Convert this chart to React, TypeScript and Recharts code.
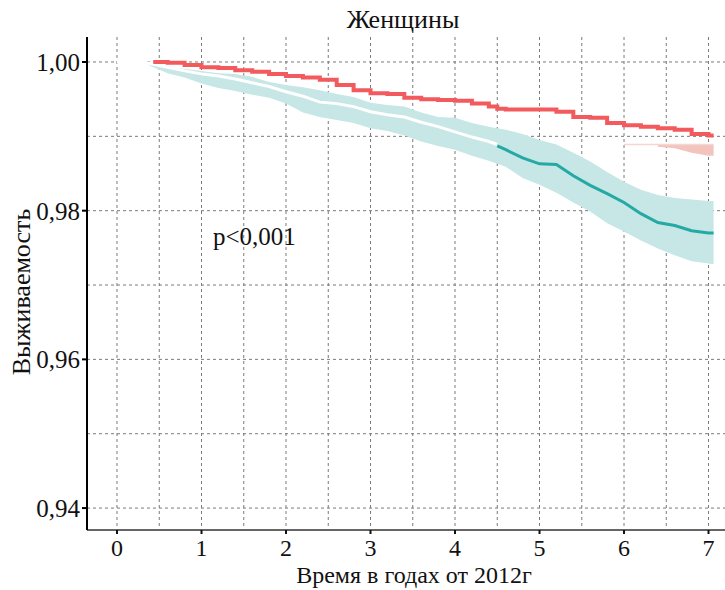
import {
  ComposedChart,
  Line,
  Area,
  XAxis,
  YAxis,
  CartesianGrid,
  Customized,
} from "recharts";

// time points (years from 2012)
const times = [
  0, 0.3, 0.43, 0.6, 0.8, 1.0, 1.2, 1.4, 1.6, 1.8, 2.0, 2.2, 2.4, 2.6, 2.8, 3.0,
  3.2, 3.4, 3.6, 3.8, 4.0, 4.2, 4.4, 4.5, 4.6, 4.8, 5.0, 5.2, 5.4, 5.6, 5.8, 6.0,
  6.2, 6.4, 6.6, 6.8, 7.0, 7.06,
];

// red group survival
const redSurv = [
  null, null, 1.0, 0.9999, 0.9996, 0.9993, 0.9992, 0.9989, 0.9987, 0.9984,
  0.9981, 0.9979, 0.9976, 0.9969, 0.9962, 0.9958, 0.9957, 0.9952, 0.995, 0.9949,
  0.9948, 0.9944, 0.994, 0.9937, 0.9936, 0.9936, 0.9936, 0.9933, 0.9926, 0.9925,
  0.9918, 0.9915, 0.9913, 0.9911, 0.9909, 0.9903, 0.9901, 0.9901,
];

// white trace inside the teal band (up to 4.5 years)
const whiteTrace = [
  1.0, 1.0, 0.9997, 0.9993, 0.9988, 0.9984, 0.9981, 0.9977, 0.9972, 0.9967,
  0.996, 0.9954, 0.9946, 0.9944, 0.994, 0.9933, 0.9929, 0.9926, 0.9919, 0.9913,
  0.9906, 0.9899, 0.9893, 0.9889, null, null, null, null, null, null, null, null,
  null, null, null, null, null, null,
];

// teal group survival (visible from 4.5 years)
const tealSurv = [
  null, null, null, null, null, null, null, null, null, null, null, null, null,
  null, null, null, null, null, null, null, null, null, null, 0.9887, 0.9882,
  0.9871, 0.9863, 0.9862, 0.9847, 0.9834, 0.9823, 0.9811, 0.9796, 0.9784,
  0.978, 0.9773, 0.977, 0.977,
];

// teal confidence band
const tealUpper = [
  1.0, 1.0, 0.9997, 0.9993, 0.9991, 0.9988, 0.9985, 0.9984, 0.998, 0.9973,
  0.9969, 0.9966, 0.9962, 0.9957, 0.9953, 0.9945, 0.9942, 0.994, 0.9932, 0.9926,
  0.9925, 0.9918, 0.9913, 0.9911, 0.9909, 0.9903, 0.9895, 0.9889, 0.9878,
  0.9866, 0.9852, 0.9839, 0.9828, 0.9821, 0.9817, 0.9815, 0.9813, 0.9813,
];
const tealLower = [
  1.0, 1.0, 0.9993, 0.9985, 0.9979, 0.9971, 0.9965, 0.9961, 0.9956, 0.9952,
  0.9944, 0.9932, 0.9926, 0.9922, 0.9918, 0.9911, 0.9907, 0.9901, 0.9893,
  0.9887, 0.9882, 0.9874, 0.9867, 0.9863, 0.9859, 0.9844, 0.9835, 0.9824,
  0.9811, 0.9799, 0.9783, 0.9772, 0.976, 0.9749, 0.974, 0.9732, 0.9729, 0.9728,
];

// faint red lower confidence bound near the end
const redLowerFaint = [
  null, null, null, null, null, null, null, null, null, null, null, null, null,
  null, null, null, null, null, null, null, null, null, null, null, null, null,
  null, null, null, null, null, 0.9889, 0.9889, 0.9889, 0.9889, 0.9889, 0.9889,
  0.9889,
];
const redPatchLow = [
  null, null, null, null, null, null, null, null, null, null, null, null, null,
  null, null, null, null, null, null, null, null, null, null, null, null, null,
  null, null, null, null, null, null, null, 0.9886, 0.9884, 0.9878, 0.9874,
  0.9874,
];

const xTicks = [0, 1, 2, 3, 4, 5, 6, 7];
const yTicks = [0.94, 0.96, 0.98, 1.0];
const xGrid = [0, 0.5, 1, 1.5, 2, 2.5, 3, 3.5, 4, 4.5, 5, 5.5, 6, 6.5, 7];
const yGrid = [0.94, 0.95, 0.96, 0.97, 0.98, 0.99, 1.0];

const data = times.map((t, i) => ({
  t,
  red: redSurv[i],
  white: whiteTrace[i],
  teal: tealSurv[i],
  band: [tealLower[i], tealUpper[i]],
  redFaint: redLowerFaint[i],
  patch: redPatchLow[i] == null ? null : [redPatchLow[i], redLowerFaint[i]],
}));

const FONT = "'Liberation Serif', 'Times New Roman', serif";
const X_DOMAIN = [-0.355, 7.195];

const Texts = () => (
  <g fontFamily={FONT} fill="#111" fontSize={26}>
    <text x={403} y={28} textAnchor="middle">
      Женщины
    </text>
    <text x={30} y={292} textAnchor="middle" transform="rotate(-90 30 292)">
      Выживаемость
    </text>
    <text x={414} y={583} textAnchor="middle" fontSize={24}>
      Время в годах от 2012г
    </text>
    <text x={213} y={245} fontSize={25}>
      p&lt;0,001
    </text>
  </g>
);

export default function App() {
  return (
    <div style={{ position: "absolute", left: 0, top: 0, background: "#fff" }}>
      <ComposedChart
        width={725}
        height={590}
        data={data}
        margin={{ top: 37, right: 0, bottom: 30, left: 0 }}
      >
        <CartesianGrid
          stroke="#7a7a7a"
          strokeDasharray="3 3"
          verticalValues={xGrid}
          horizontalValues={yGrid}
        />
        <XAxis
          type="number"
          dataKey="t"
          domain={X_DOMAIN}
          ticks={xTicks}
          height={30}
          tickSize={4}
          tickMargin={5}
          axisLine={{ stroke: "#666", strokeWidth: 2 }}
          tickLine={{ stroke: "#111", strokeWidth: 2 }}
          tick={{ fill: "#111", fontSize: 24, fontFamily: FONT }}
          allowDataOverflow
        />
        <XAxis
          xAxisId="top"
          orientation="top"
          type="number"
          dataKey="t"
          domain={X_DOMAIN}
          ticks={xTicks}
          height={0}
          mirror
          tick={false}
          tickSize={4}
          axisLine={{ stroke: "#777", strokeWidth: 2 }}
          tickLine={{ stroke: "#333", strokeWidth: 2 }}
          allowDataOverflow
        />
        <YAxis
          type="number"
          domain={[0.93705, 1.00336]}
          ticks={yTicks}
          width={87}
          tickSize={5}
          tickMargin={2}
          interval={0}
          axisLine={{ stroke: "#000", strokeWidth: 2 }}
          tickLine={{ stroke: "#000", strokeWidth: 2 }}
          tick={{ fill: "#111", fontSize: 25, fontFamily: FONT }}
          tickFormatter={(v: number) => v.toFixed(2).replace(".", ",")}
          allowDataOverflow
        />
        <Area
          type="linear"
          dataKey="band"
          fill="#c6e7e6"
          fillOpacity={1}
          stroke="none"
          isAnimationActive={false}
          activeDot={false}
        />
        <Area
          type="linear"
          dataKey="patch"
          fill="#f3c4bd"
          fillOpacity={1}
          stroke="none"
          isAnimationActive={false}
          activeDot={false}
        />
        <Line
          type="stepAfter"
          dataKey="redFaint"
          stroke="#f6d6d2"
          strokeWidth={1.5}
          dot={false}
          activeDot={false}
          isAnimationActive={false}
        />
        <Line
          type="linear"
          dataKey="white"
          stroke="#ffffff"
          strokeWidth={3}
          dot={false}
          activeDot={false}
          isAnimationActive={false}
        />
        <Line
          type="linear"
          dataKey="teal"
          stroke="#24a9a4"
          strokeWidth={3}
          dot={false}
          activeDot={false}
          isAnimationActive={false}
        />
        <Line
          type="stepAfter"
          dataKey="red"
          stroke="#f25a5e"
          strokeWidth={4}
          dot={false}
          activeDot={false}
          isAnimationActive={false}
        />
        <Customized component={Texts} />
      </ComposedChart>
    </div>
  );
}
